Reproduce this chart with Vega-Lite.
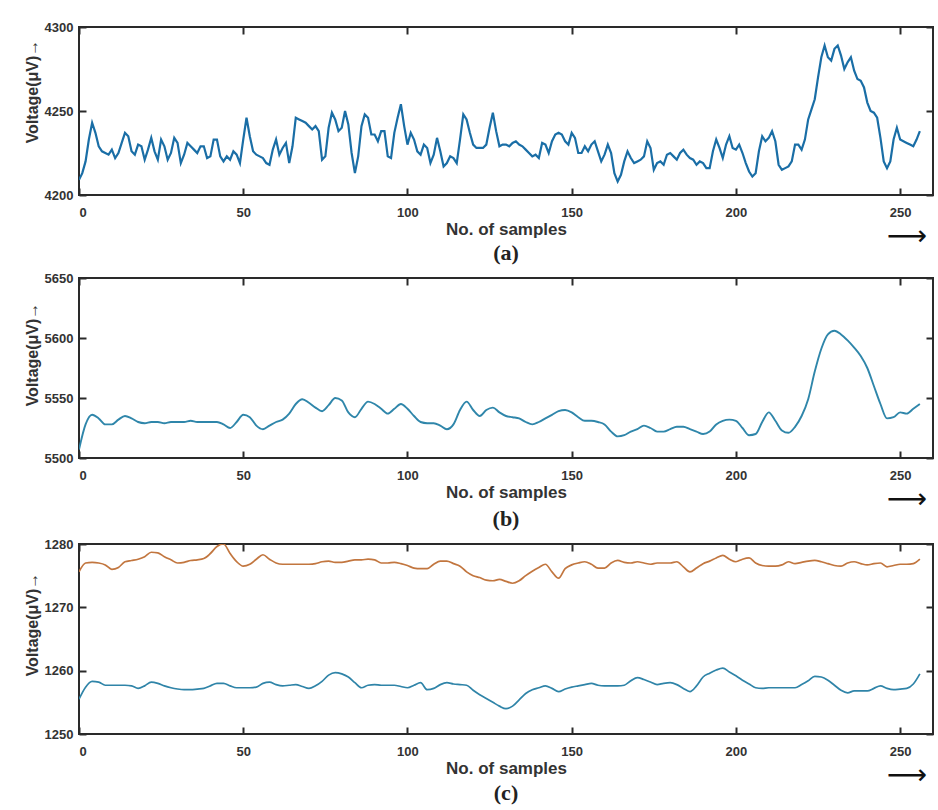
{
  "$schema": "https://vega.github.io/schema/vega-lite/v6.json",
  "usermeta": {"embedOptions": {"actions": false}},
  "background": "white",
  "padding": {"left": 23, "top": 20, "right": 1, "bottom": 0},
  "spacing": 6,
  "datasets": {
    "a": [
      {"x":0,"v":4209},{"x":1,"v":4213},{"x":2,"v":4220},{"x":3,"v":4233},{"x":4,"v":4243},{"x":5,"v":4237},{"x":6,"v":4229},{"x":7,"v":4226},{"x":8,"v":4225},{"x":9,"v":4224},
      {"x":10,"v":4227},{"x":11,"v":4222},{"x":12,"v":4225},{"x":13,"v":4231},{"x":14,"v":4237},{"x":15,"v":4235},{"x":16,"v":4226},{"x":17,"v":4224},{"x":18,"v":4230},{"x":19,"v":4229},
      {"x":20,"v":4221},{"x":21,"v":4227},{"x":22,"v":4234},{"x":23,"v":4226},{"x":24,"v":4221},{"x":25,"v":4233},{"x":26,"v":4229},{"x":27,"v":4221},{"x":28,"v":4225},{"x":29,"v":4234},
      {"x":30,"v":4231},{"x":31,"v":4219},{"x":32,"v":4224},{"x":33,"v":4231},{"x":34,"v":4229},{"x":35,"v":4227},{"x":36,"v":4225},{"x":37,"v":4229},{"x":38,"v":4229},{"x":39,"v":4222},
      {"x":40,"v":4223},{"x":41,"v":4233},{"x":42,"v":4233},{"x":43,"v":4223},{"x":44,"v":4220},{"x":45,"v":4223},{"x":46,"v":4221},{"x":47,"v":4226},{"x":48,"v":4224},{"x":49,"v":4219},
      {"x":50,"v":4233},{"x":51,"v":4246},{"x":52,"v":4235},{"x":53,"v":4226},{"x":54,"v":4224},{"x":55,"v":4223},{"x":56,"v":4222},{"x":57,"v":4219},{"x":58,"v":4218},{"x":59,"v":4227},
      {"x":60,"v":4233},{"x":61,"v":4224},{"x":62,"v":4228},{"x":63,"v":4231},{"x":64,"v":4219},{"x":65,"v":4229},{"x":66,"v":4246},{"x":67,"v":4245},{"x":68,"v":4244},{"x":69,"v":4243},
      {"x":70,"v":4241},{"x":71,"v":4239},{"x":72,"v":4241},{"x":73,"v":4238},{"x":74,"v":4221},{"x":75,"v":4223},{"x":76,"v":4240},{"x":77,"v":4249},{"x":78,"v":4245},{"x":79,"v":4238},
      {"x":80,"v":4240},{"x":81,"v":4250},{"x":82,"v":4242},{"x":83,"v":4225},{"x":84,"v":4213},{"x":85,"v":4223},{"x":86,"v":4241},{"x":87,"v":4248},{"x":88,"v":4246},{"x":89,"v":4236},
      {"x":90,"v":4236},{"x":91,"v":4232},{"x":92,"v":4238},{"x":93,"v":4238},{"x":94,"v":4223},{"x":95,"v":4222},{"x":96,"v":4237},{"x":97,"v":4246},{"x":98,"v":4254},{"x":99,"v":4241},
      {"x":100,"v":4230},{"x":101,"v":4237},{"x":102,"v":4233},{"x":103,"v":4226},{"x":104,"v":4224},{"x":105,"v":4230},{"x":106,"v":4228},{"x":107,"v":4219},{"x":108,"v":4224},{"x":109,"v":4234},
      {"x":110,"v":4226},{"x":111,"v":4217},{"x":112,"v":4219},{"x":113,"v":4223},{"x":114,"v":4222},{"x":115,"v":4219},{"x":116,"v":4233},{"x":117,"v":4248},{"x":118,"v":4245},{"x":119,"v":4237},
      {"x":120,"v":4230},{"x":121,"v":4228},{"x":122,"v":4228},{"x":123,"v":4228},{"x":124,"v":4230},{"x":125,"v":4240},{"x":126,"v":4249},{"x":127,"v":4238},{"x":128,"v":4229},{"x":129,"v":4230},
      {"x":130,"v":4230},{"x":131,"v":4229},{"x":132,"v":4231},{"x":133,"v":4232},{"x":134,"v":4230},{"x":135,"v":4229},{"x":136,"v":4227},{"x":137,"v":4225},{"x":138,"v":4223},{"x":139,"v":4224},
      {"x":140,"v":4222},{"x":141,"v":4231},{"x":142,"v":4230},{"x":143,"v":4225},{"x":144,"v":4232},{"x":145,"v":4236},{"x":146,"v":4237},{"x":147,"v":4236},{"x":148,"v":4232},{"x":149,"v":4230},
      {"x":150,"v":4237},{"x":151,"v":4234},{"x":152,"v":4225},{"x":153,"v":4225},{"x":154,"v":4229},{"x":155,"v":4226},{"x":156,"v":4230},{"x":157,"v":4232},{"x":158,"v":4226},{"x":159,"v":4220},
      {"x":160,"v":4224},{"x":161,"v":4230},{"x":162,"v":4225},{"x":163,"v":4213},{"x":164,"v":4208},{"x":165,"v":4212},{"x":166,"v":4220},{"x":167,"v":4226},{"x":168,"v":4222},{"x":169,"v":4219},
      {"x":170,"v":4220},{"x":171,"v":4221},{"x":172,"v":4223},{"x":173,"v":4232},{"x":174,"v":4228},{"x":175,"v":4215},{"x":176,"v":4219},{"x":177,"v":4220},{"x":178,"v":4218},{"x":179,"v":4224},
      {"x":180,"v":4225},{"x":181,"v":4223},{"x":182,"v":4221},{"x":183,"v":4225},{"x":184,"v":4227},{"x":185,"v":4224},{"x":186,"v":4222},{"x":187,"v":4221},{"x":188,"v":4218},{"x":189,"v":4220},
      {"x":190,"v":4219},{"x":191,"v":4216},{"x":192,"v":4216},{"x":193,"v":4226},{"x":194,"v":4233},{"x":195,"v":4228},{"x":196,"v":4222},{"x":197,"v":4230},{"x":198,"v":4235},{"x":199,"v":4228},
      {"x":200,"v":4227},{"x":201,"v":4230},{"x":202,"v":4225},{"x":203,"v":4219},{"x":204,"v":4214},{"x":205,"v":4211},{"x":206,"v":4213},{"x":207,"v":4226},{"x":208,"v":4235},{"x":209,"v":4232},
      {"x":210,"v":4234},{"x":211,"v":4238},{"x":212,"v":4232},{"x":213,"v":4218},{"x":214,"v":4215},{"x":215,"v":4216},{"x":216,"v":4217},{"x":217,"v":4220},{"x":218,"v":4230},{"x":219,"v":4230},
      {"x":220,"v":4227},{"x":221,"v":4233},{"x":222,"v":4245},{"x":223,"v":4251},{"x":224,"v":4257},{"x":225,"v":4270},{"x":226,"v":4282},{"x":227,"v":4289},{"x":228,"v":4282},{"x":229,"v":4280},
      {"x":230,"v":4287},{"x":231,"v":4289},{"x":232,"v":4283},{"x":233,"v":4275},{"x":234,"v":4279},{"x":235,"v":4282},{"x":236,"v":4274},{"x":237,"v":4269},{"x":238,"v":4268},{"x":239,"v":4264},
      {"x":240,"v":4255},{"x":241,"v":4250},{"x":242,"v":4249},{"x":243,"v":4246},{"x":244,"v":4234},{"x":245,"v":4220},{"x":246,"v":4216},{"x":247,"v":4220},{"x":248,"v":4233},{"x":249,"v":4240},
      {"x":250,"v":4233},{"x":251,"v":4232},{"x":252,"v":4231},{"x":253,"v":4230},{"x":254,"v":4229},{"x":255,"v":4233},{"x":256,"v":4238}
    ],
    "b": [
      {"x":0,"v":5507},{"x":2,"v":5528},{"x":4,"v":5536},{"x":6,"v":5533},{"x":8,"v":5528},{"x":10,"v":5528},{"x":12,"v":5532},{"x":14,"v":5535},{"x":16,"v":5533},{"x":18,"v":5530},
      {"x":20,"v":5529},{"x":22,"v":5530},{"x":24,"v":5530},{"x":26,"v":5529},{"x":28,"v":5530},{"x":30,"v":5530},{"x":32,"v":5530},{"x":34,"v":5531},{"x":36,"v":5530},{"x":38,"v":5530},
      {"x":40,"v":5530},{"x":42,"v":5530},{"x":44,"v":5528},{"x":46,"v":5525},{"x":48,"v":5530},{"x":50,"v":5536},{"x":52,"v":5534},{"x":54,"v":5527},{"x":56,"v":5524},{"x":58,"v":5527},
      {"x":60,"v":5530},{"x":62,"v":5532},{"x":64,"v":5537},{"x":66,"v":5545},{"x":68,"v":5549},{"x":70,"v":5546},{"x":72,"v":5542},{"x":74,"v":5539},{"x":76,"v":5544},{"x":78,"v":5550},
      {"x":80,"v":5548},{"x":82,"v":5538},{"x":84,"v":5534},{"x":86,"v":5541},{"x":88,"v":5547},{"x":90,"v":5545},{"x":92,"v":5541},{"x":94,"v":5537},{"x":96,"v":5541},{"x":98,"v":5545},
      {"x":100,"v":5541},{"x":102,"v":5535},{"x":104,"v":5530},{"x":106,"v":5529},{"x":108,"v":5529},{"x":110,"v":5527},{"x":112,"v":5524},{"x":114,"v":5528},{"x":116,"v":5540},{"x":118,"v":5547},
      {"x":120,"v":5540},{"x":122,"v":5535},{"x":124,"v":5540},{"x":126,"v":5542},{"x":128,"v":5538},{"x":130,"v":5535},{"x":132,"v":5534},{"x":134,"v":5533},{"x":136,"v":5530},{"x":138,"v":5528},
      {"x":140,"v":5530},{"x":142,"v":5533},{"x":144,"v":5536},{"x":146,"v":5539},{"x":148,"v":5540},{"x":150,"v":5538},{"x":152,"v":5534},{"x":154,"v":5531},{"x":156,"v":5531},{"x":158,"v":5530},
      {"x":160,"v":5528},{"x":162,"v":5522},{"x":164,"v":5518},{"x":166,"v":5519},{"x":168,"v":5522},{"x":170,"v":5524},{"x":172,"v":5527},{"x":174,"v":5525},{"x":176,"v":5522},{"x":178,"v":5522},
      {"x":180,"v":5524},{"x":182,"v":5526},{"x":184,"v":5526},{"x":186,"v":5524},{"x":188,"v":5522},{"x":190,"v":5520},{"x":192,"v":5522},{"x":194,"v":5528},{"x":196,"v":5531},{"x":198,"v":5532},
      {"x":200,"v":5531},{"x":202,"v":5525},{"x":204,"v":5519},{"x":206,"v":5520},{"x":208,"v":5530},{"x":210,"v":5538},{"x":212,"v":5531},{"x":214,"v":5523},{"x":216,"v":5521},{"x":218,"v":5526},
      {"x":220,"v":5535},{"x":222,"v":5549},{"x":224,"v":5572},{"x":226,"v":5591},{"x":228,"v":5603},{"x":230,"v":5606},{"x":232,"v":5603},{"x":234,"v":5598},{"x":236,"v":5592},{"x":238,"v":5585},
      {"x":240,"v":5575},{"x":242,"v":5560},{"x":244,"v":5545},{"x":246,"v":5533},{"x":248,"v":5534},{"x":250,"v":5538},{"x":252,"v":5537},{"x":254,"v":5541},{"x":256,"v":5545}
    ],
    "c": [
      {"x":0,"s":"o","v":1275.6},{"x":2,"s":"o","v":1277.0},{"x":4,"s":"o","v":1277.1},{"x":6,"s":"o","v":1277.0},{"x":8,"s":"o","v":1276.7},{"x":10,"s":"o","v":1276.0},{"x":12,"s":"o","v":1276.3},{"x":14,"s":"o","v":1277.2},{"x":16,"s":"o","v":1277.4},{"x":18,"s":"o","v":1277.6},
      {"x":20,"s":"o","v":1278.0},{"x":22,"s":"o","v":1278.7},{"x":24,"s":"o","v":1278.6},{"x":26,"s":"o","v":1278.0},{"x":28,"s":"o","v":1277.5},{"x":30,"s":"o","v":1277.0},{"x":32,"s":"o","v":1277.1},{"x":34,"s":"o","v":1277.4},{"x":36,"s":"o","v":1277.5},{"x":38,"s":"o","v":1277.7},
      {"x":40,"s":"o","v":1278.5},{"x":42,"s":"o","v":1279.6},{"x":44,"s":"o","v":1280.0},{"x":46,"s":"o","v":1278.5},{"x":48,"s":"o","v":1277.2},{"x":50,"s":"o","v":1276.5},{"x":52,"s":"o","v":1276.8},{"x":54,"s":"o","v":1277.6},{"x":56,"s":"o","v":1278.3},{"x":58,"s":"o","v":1277.6},
      {"x":60,"s":"o","v":1277.0},{"x":62,"s":"o","v":1276.8},{"x":64,"s":"o","v":1276.8},{"x":66,"s":"o","v":1276.8},{"x":68,"s":"o","v":1276.8},{"x":70,"s":"o","v":1276.8},{"x":72,"s":"o","v":1276.9},{"x":74,"s":"o","v":1277.2},{"x":76,"s":"o","v":1277.3},{"x":78,"s":"o","v":1277.1},
      {"x":80,"s":"o","v":1277.1},{"x":82,"s":"o","v":1277.3},{"x":84,"s":"o","v":1277.5},{"x":86,"s":"o","v":1277.5},{"x":88,"s":"o","v":1277.6},{"x":90,"s":"o","v":1277.5},{"x":92,"s":"o","v":1277.0},{"x":94,"s":"o","v":1277.0},{"x":96,"s":"o","v":1277.1},{"x":98,"s":"o","v":1276.9},
      {"x":100,"s":"o","v":1276.6},{"x":102,"s":"o","v":1276.2},{"x":104,"s":"o","v":1276.1},{"x":106,"s":"o","v":1276.1},{"x":108,"s":"o","v":1276.8},{"x":110,"s":"o","v":1277.3},{"x":112,"s":"o","v":1277.3},{"x":114,"s":"o","v":1276.9},{"x":116,"s":"o","v":1276.5},{"x":118,"s":"o","v":1275.6},
      {"x":120,"s":"o","v":1275.0},{"x":122,"s":"o","v":1274.7},{"x":124,"s":"o","v":1274.3},{"x":126,"s":"o","v":1274.2},{"x":128,"s":"o","v":1274.4},{"x":130,"s":"o","v":1274.1},{"x":132,"s":"o","v":1273.8},{"x":134,"s":"o","v":1274.2},{"x":136,"s":"o","v":1275.0},{"x":138,"s":"o","v":1275.7},
      {"x":140,"s":"o","v":1276.3},{"x":142,"s":"o","v":1276.8},{"x":144,"s":"o","v":1275.6},{"x":146,"s":"o","v":1274.6},{"x":148,"s":"o","v":1276.1},{"x":150,"s":"o","v":1276.7},{"x":152,"s":"o","v":1277.0},{"x":154,"s":"o","v":1277.2},{"x":156,"s":"o","v":1276.8},{"x":158,"s":"o","v":1276.2},
      {"x":160,"s":"o","v":1276.2},{"x":162,"s":"o","v":1277.0},{"x":164,"s":"o","v":1277.4},{"x":166,"s":"o","v":1277.1},{"x":168,"s":"o","v":1277.0},{"x":170,"s":"o","v":1277.2},{"x":172,"s":"o","v":1277.0},{"x":174,"s":"o","v":1276.8},{"x":176,"s":"o","v":1277.0},{"x":178,"s":"o","v":1277.0},
      {"x":180,"s":"o","v":1277.0},{"x":182,"s":"o","v":1277.2},{"x":184,"s":"o","v":1276.4},{"x":186,"s":"o","v":1275.6},{"x":188,"s":"o","v":1276.2},{"x":190,"s":"o","v":1276.9},{"x":192,"s":"o","v":1277.3},{"x":194,"s":"o","v":1277.8},{"x":196,"s":"o","v":1278.2},{"x":198,"s":"o","v":1277.6},
      {"x":200,"s":"o","v":1277.2},{"x":202,"s":"o","v":1277.6},{"x":204,"s":"o","v":1277.8},{"x":206,"s":"o","v":1277.0},{"x":208,"s":"o","v":1276.6},{"x":210,"s":"o","v":1276.5},{"x":212,"s":"o","v":1276.5},{"x":214,"s":"o","v":1276.7},{"x":216,"s":"o","v":1277.2},{"x":218,"s":"o","v":1276.9},
      {"x":220,"s":"o","v":1277.1},{"x":222,"s":"o","v":1277.3},{"x":224,"s":"o","v":1277.4},{"x":226,"s":"o","v":1277.2},{"x":228,"s":"o","v":1276.9},{"x":230,"s":"o","v":1276.6},{"x":232,"s":"o","v":1276.5},{"x":234,"s":"o","v":1277.0},{"x":236,"s":"o","v":1277.2},{"x":238,"s":"o","v":1276.9},
      {"x":240,"s":"o","v":1276.7},{"x":242,"s":"o","v":1276.9},{"x":244,"s":"o","v":1277.0},{"x":246,"s":"o","v":1276.4},{"x":248,"s":"o","v":1276.6},{"x":250,"s":"o","v":1276.8},{"x":252,"s":"o","v":1276.8},{"x":254,"s":"o","v":1276.9},{"x":256,"s":"o","v":1277.6},
      {"x":0,"s":"b","v":1255.5},{"x":2,"s":"b","v":1257.4},{"x":4,"s":"b","v":1258.3},{"x":6,"s":"b","v":1258.2},{"x":8,"s":"b","v":1257.7},{"x":10,"s":"b","v":1257.7},{"x":12,"s":"b","v":1257.7},{"x":14,"s":"b","v":1257.7},{"x":16,"s":"b","v":1257.6},{"x":18,"s":"b","v":1257.2},
      {"x":20,"s":"b","v":1257.6},{"x":22,"s":"b","v":1258.2},{"x":24,"s":"b","v":1258.0},{"x":26,"s":"b","v":1257.6},{"x":28,"s":"b","v":1257.3},{"x":30,"s":"b","v":1257.1},{"x":32,"s":"b","v":1257.0},{"x":34,"s":"b","v":1257.0},{"x":36,"s":"b","v":1257.1},{"x":38,"s":"b","v":1257.2},
      {"x":40,"s":"b","v":1257.6},{"x":42,"s":"b","v":1258.0},{"x":44,"s":"b","v":1258.0},{"x":46,"s":"b","v":1257.6},{"x":48,"s":"b","v":1257.3},{"x":50,"s":"b","v":1257.3},{"x":52,"s":"b","v":1257.3},{"x":54,"s":"b","v":1257.4},{"x":56,"s":"b","v":1258.0},{"x":58,"s":"b","v":1258.2},
      {"x":60,"s":"b","v":1257.8},{"x":62,"s":"b","v":1257.6},{"x":64,"s":"b","v":1257.7},{"x":66,"s":"b","v":1257.8},{"x":68,"s":"b","v":1257.5},{"x":70,"s":"b","v":1257.2},{"x":72,"s":"b","v":1257.6},{"x":74,"s":"b","v":1258.3},{"x":76,"s":"b","v":1259.3},{"x":78,"s":"b","v":1259.7},
      {"x":80,"s":"b","v":1259.5},{"x":82,"s":"b","v":1259.0},{"x":84,"s":"b","v":1258.1},{"x":86,"s":"b","v":1257.3},{"x":88,"s":"b","v":1257.7},{"x":90,"s":"b","v":1257.8},{"x":92,"s":"b","v":1257.7},{"x":94,"s":"b","v":1257.7},{"x":96,"s":"b","v":1257.7},{"x":98,"s":"b","v":1257.5},
      {"x":100,"s":"b","v":1257.3},{"x":102,"s":"b","v":1257.7},{"x":104,"s":"b","v":1258.1},{"x":106,"s":"b","v":1257.0},{"x":108,"s":"b","v":1257.2},{"x":110,"s":"b","v":1257.8},{"x":112,"s":"b","v":1258.1},{"x":114,"s":"b","v":1257.9},{"x":116,"s":"b","v":1257.8},{"x":118,"s":"b","v":1257.7},
      {"x":120,"s":"b","v":1256.9},{"x":122,"s":"b","v":1256.2},{"x":124,"s":"b","v":1255.6},{"x":126,"s":"b","v":1255.0},{"x":128,"s":"b","v":1254.4},{"x":130,"s":"b","v":1254.0},{"x":132,"s":"b","v":1254.4},{"x":134,"s":"b","v":1255.4},{"x":136,"s":"b","v":1256.4},{"x":138,"s":"b","v":1257.0},
      {"x":140,"s":"b","v":1257.3},{"x":142,"s":"b","v":1257.6},{"x":144,"s":"b","v":1257.2},{"x":146,"s":"b","v":1256.7},{"x":148,"s":"b","v":1257.1},{"x":150,"s":"b","v":1257.4},{"x":152,"s":"b","v":1257.6},{"x":154,"s":"b","v":1257.8},{"x":156,"s":"b","v":1258.0},{"x":158,"s":"b","v":1257.7},
      {"x":160,"s":"b","v":1257.6},{"x":162,"s":"b","v":1257.6},{"x":164,"s":"b","v":1257.6},{"x":166,"s":"b","v":1257.7},{"x":168,"s":"b","v":1258.4},{"x":170,"s":"b","v":1258.9},{"x":172,"s":"b","v":1258.6},{"x":174,"s":"b","v":1258.2},{"x":176,"s":"b","v":1257.8},{"x":178,"s":"b","v":1258.0},
      {"x":180,"s":"b","v":1258.1},{"x":182,"s":"b","v":1257.8},{"x":184,"s":"b","v":1257.2},{"x":186,"s":"b","v":1256.7},{"x":188,"s":"b","v":1257.6},{"x":190,"s":"b","v":1259.0},{"x":192,"s":"b","v":1259.6},{"x":194,"s":"b","v":1260.1},{"x":196,"s":"b","v":1260.4},{"x":198,"s":"b","v":1259.8},
      {"x":200,"s":"b","v":1259.2},{"x":202,"s":"b","v":1258.5},{"x":204,"s":"b","v":1257.9},{"x":206,"s":"b","v":1257.3},{"x":208,"s":"b","v":1257.2},{"x":210,"s":"b","v":1257.3},{"x":212,"s":"b","v":1257.3},{"x":214,"s":"b","v":1257.3},{"x":216,"s":"b","v":1257.3},{"x":218,"s":"b","v":1257.3},
      {"x":220,"s":"b","v":1257.8},{"x":222,"s":"b","v":1258.4},{"x":224,"s":"b","v":1259.1},{"x":226,"s":"b","v":1259.0},{"x":228,"s":"b","v":1258.5},{"x":230,"s":"b","v":1257.7},{"x":232,"s":"b","v":1256.9},{"x":234,"s":"b","v":1256.5},{"x":236,"s":"b","v":1256.8},{"x":238,"s":"b","v":1256.8},
      {"x":240,"s":"b","v":1256.8},{"x":242,"s":"b","v":1257.2},{"x":244,"s":"b","v":1257.6},{"x":246,"s":"b","v":1257.2},{"x":248,"s":"b","v":1257.0},{"x":250,"s":"b","v":1257.1},{"x":252,"s":"b","v":1257.2},{"x":254,"s":"b","v":1257.9},{"x":256,"s":"b","v":1259.5}
    ]
  },
  "vconcat": [
    {
      "width": 854, "height": 168,
      "title": {"text": "(a)", "offset": -8},
      "layer": [
        {
          "data": {"name": "a"},
          "mark": {"type": "line", "color": "#1a6ea6", "strokeWidth": 2.2, "clip": true},
          "encoding": {
            "x": {"field": "x", "type": "quantitative", "scale": {"domain": [0, 260], "nice": false, "zero": false},
                  "axis": {"orient": "bottom", "values": [0,50,100,150,200,250], "title": "No. of samples", "ticks": false}},
            "y": {"field": "v", "type": "quantitative", "scale": {"domain": [4200, 4300], "nice": false, "zero": false},
                  "axis": {"orient": "left", "values": [4200,4250,4300], "format": "d", "title": "Voltage(μV)→", "ticks": false, "titleY": 64}}
          }
        },
        {
          "data": {"values": [{}]},
          "mark": {"type": "text", "text": "⟶", "font": "DejaVu Sans", "fontSize": 28, "color": "#111", "dy": 42, "baseline": "middle", "clip": false},
          "encoding": {
            "x": {"datum": 252, "type": "quantitative", "axis": {"orient": "top", "labels": false, "title": null, "values": [0,50,100,150,200,250], "offset": -7}},
            "y": {"datum": 4200, "type": "quantitative", "axis": {"orient": "right", "labels": false, "title": null, "values": [4200,4250,4300], "offset": -7}}
          }
        },
        {
          "data": {"values": [{}]},
          "mark": {"type": "text", "text": " ", "clip": false},
          "encoding": {
            "x": {"datum": 0, "type": "quantitative", "axis": {"orient": "bottom", "labels": false, "title": null, "values": [0,50,100,150,200,250], "offset": -7}},
            "y": {"datum": 4200, "type": "quantitative", "axis": {"orient": "left", "labels": false, "title": null, "values": [4200,4250,4300], "offset": -7}}
          }
        }
      ],
      "resolve": {"axis": {"x": "independent", "y": "independent"}}
    },
    {
      "width": 854, "height": 180,
      "title": {"text": "(b)", "offset": -5},
      "layer": [
        {
          "data": {"name": "b"},
          "mark": {"type": "line", "color": "#2f86aa", "strokeWidth": 1.9, "clip": true, "interpolate": "monotone"},
          "encoding": {
            "x": {"field": "x", "type": "quantitative", "scale": {"domain": [0, 260], "nice": false, "zero": false},
                  "axis": {"orient": "bottom", "values": [0,50,100,150,200,250], "title": "No. of samples", "ticks": false}},
            "y": {"field": "v", "type": "quantitative", "scale": {"domain": [5500, 5650], "nice": false, "zero": false},
                  "axis": {"orient": "left", "values": [5500,5550,5600,5650], "format": "d", "title": "Voltage(μV)→", "ticks": false, "titleY": 76}}
          }
        },
        {
          "data": {"values": [{}]},
          "mark": {"type": "text", "text": "⟶", "font": "DejaVu Sans", "fontSize": 28, "color": "#111", "dy": 42, "baseline": "middle", "clip": false},
          "encoding": {
            "x": {"datum": 252, "type": "quantitative", "axis": {"orient": "top", "labels": false, "title": null, "values": [0,50,100,150,200,250], "offset": -7}},
            "y": {"datum": 5500, "type": "quantitative", "axis": {"orient": "right", "labels": false, "title": null, "values": [5500,5550,5600,5650], "offset": -7}}
          }
        },
        {
          "data": {"values": [{}]},
          "mark": {"type": "text", "text": " ", "clip": false},
          "encoding": {
            "x": {"datum": 0, "type": "quantitative", "axis": {"orient": "bottom", "labels": false, "title": null, "values": [0,50,100,150,200,250], "offset": -7}},
            "y": {"datum": 5500, "type": "quantitative", "axis": {"orient": "left", "labels": false, "title": null, "values": [5500,5550,5600,5650], "offset": -7}}
          }
        }
      ],
      "resolve": {"axis": {"x": "independent", "y": "independent"}}
    },
    {
      "width": 854, "height": 190,
      "title": {"text": "(c)", "offset": -7},
      "layer": [
        {
          "data": {"name": "c"},
          "mark": {"type": "line", "strokeWidth": 1.7, "clip": true, "interpolate": "monotone"},
          "encoding": {
            "x": {"field": "x", "type": "quantitative", "scale": {"domain": [0, 260], "nice": false, "zero": false},
                  "axis": {"orient": "bottom", "values": [0,50,100,150,200,250], "title": "No. of samples", "ticks": false}},
            "y": {"field": "v", "type": "quantitative", "scale": {"domain": [1250, 1280], "nice": false, "zero": false},
                  "axis": {"orient": "left", "values": [1250,1260,1270,1280], "format": "d", "title": "Voltage(μV)→", "ticks": false, "titleY": 80}},
            "color": {"field": "s", "type": "nominal", "scale": {"domain": ["o", "b"], "range": ["#c2763f", "#2f84a8"]}, "legend": null}
          }
        },
        {
          "data": {"values": [{}]},
          "mark": {"type": "text", "text": "⟶", "font": "DejaVu Sans", "fontSize": 28, "color": "#111", "dy": 42, "baseline": "middle", "clip": false},
          "encoding": {
            "x": {"datum": 252, "type": "quantitative", "axis": {"orient": "top", "labels": false, "title": null, "values": [0,50,100,150,200,250], "offset": -7}},
            "y": {"datum": 1250, "type": "quantitative", "axis": {"orient": "right", "labels": false, "title": null, "values": [1250,1260,1270,1280], "offset": -7}}
          }
        },
        {
          "data": {"values": [{}]},
          "mark": {"type": "text", "text": " ", "clip": false},
          "encoding": {
            "x": {"datum": 0, "type": "quantitative", "axis": {"orient": "bottom", "labels": false, "title": null, "values": [0,50,100,150,200,250], "offset": -7}},
            "y": {"datum": 1250, "type": "quantitative", "axis": {"orient": "left", "labels": false, "title": null, "values": [1250,1260,1270,1280], "offset": -7}}
          }
        }
      ],
      "resolve": {"axis": {"x": "independent", "y": "independent"}}
    }
  ],
  "config": {
    "view": {"stroke": "#2a2a2a", "strokeWidth": 2},
    "axis": {
      "domain": false, "grid": false,
      "ticks": true, "tickSize": 7, "tickWidth": 2, "tickColor": "#2a2a2a",
      "labelFont": "Liberation Sans", "labelFontWeight": "bold", "labelFontSize": 13, "labelColor": "#333",
      "titleFont": "Liberation Sans", "titleFontWeight": "bold", "titleColor": "#333"
    },
    "axisBottom": {"labelPadding": 11, "titleFontSize": 17, "titlePadding": 2},
    "axisLeft": {"labelPadding": 6, "titleFontSize": 16, "titlePadding": 4},
    "title": {"orient": "bottom", "font": "Liberation Serif", "fontSize": 22, "fontWeight": "bold", "color": "#222", "anchor": "middle"}
  }
}
